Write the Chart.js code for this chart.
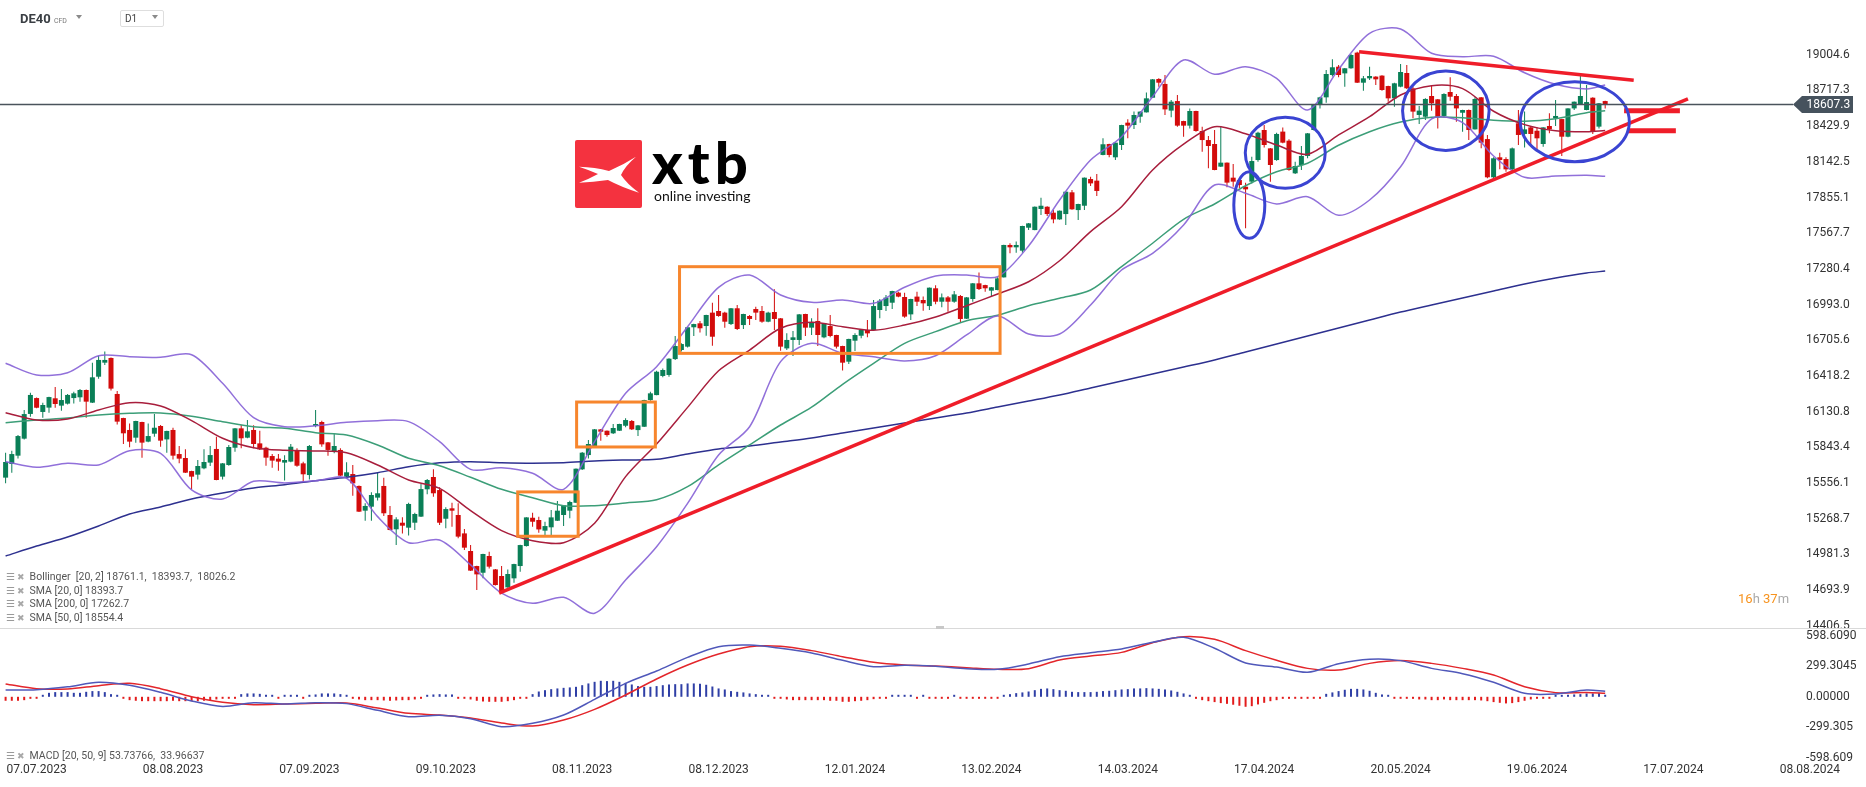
<!DOCTYPE html>
<html>
<head>
<meta charset="utf-8">
<script src="https://cdn.jsdelivr.net/npm/chart.js@4.4.0/dist/chart.umd.min.js"></script>
<style>
body{margin:0;background:#fff;width:1866px;height:787px;overflow:hidden;position:relative;font-family:Roboto,sans-serif}
canvas{position:absolute;left:0}
#main{top:0}
#macd{top:628px}
.t{position:absolute;white-space:nowrap}
.lg{position:absolute;left:6px;font-size:10.5px;line-height:12px;color:#555;white-space:nowrap}
.lg .ic{display:inline-block;width:9px;color:#9a9a9a;font-size:9.5px}
.lg .x{display:inline-block;width:12px;color:#a8a8a8;font-size:8.5px;text-align:center}
.tri{position:absolute;width:0;height:0;border-left:3.5px solid transparent;border-right:3.5px solid transparent;border-top:4px solid #8a8a8a}
#sep{position:absolute;left:0;top:628px;width:1866px;height:1px;background:#d9d9d9}
</style>
</head>
<body>
<canvas id="main" width="1866" height="628"></canvas>
<canvas id="macd" width="1866" height="159"></canvas>
<div id="sep"></div>
<div class="t" style="left:936px;top:626px;width:8px;height:3px;background:#c8c8c8"></div>

<div class="t" style="left:20px;top:11px;font-size:13px;line-height:15px;font-weight:700;color:#3a3f44">DE40 <span style="font-size:7px;font-weight:400;color:#777">CFD</span></div>
<div class="tri" style="left:76px;top:15px"></div>
<div class="t" style="left:120px;top:10px;width:42px;height:15px;border:1px solid #dedede;border-radius:2px"></div>
<div class="t" style="left:125px;top:13px;font-size:10px;line-height:12px;color:#444">D1</div>
<div class="tri" style="left:152px;top:15px"></div>

<div class="t" style="left:575px;top:140px;width:67px;height:68px;background:#f4323f;border-radius:2px">
<svg width="67" height="68" viewBox="0 0 67 68"><path fill="#fff" d="M4,26.7 Q20,27 34,31 Q48,25 61,16.7 Q50,26 46,35 Q52,44 64,52.7 Q46,47 33,40 Q18,42 4,42.7 Q14,39 23,34 Q14,30 4,26.7 Z"/></svg>
</div>
<div class="t" style="left:652px;top:133px;font-family:Lato,sans-serif;font-weight:900;font-size:58px;line-height:58px;letter-spacing:5px;color:#000">xtb</div>
<div class="t" style="left:654px;top:188px;font-family:Lato,sans-serif;font-weight:400;font-size:14px;line-height:15px;color:#111">online investing</div>

<div class="lg" style="top:571px"><span class="ic">&#9776;</span><span class="x">&#10006;</span> Bollinger&nbsp; [20, 2] 18761.1,&nbsp; 18393.7,&nbsp; 18026.2</div>
<div class="lg" style="top:585px"><span class="ic">&#9776;</span><span class="x">&#10006;</span> SMA [20, 0] 18393.7</div>
<div class="lg" style="top:598px"><span class="ic">&#9776;</span><span class="x">&#10006;</span> SMA [200, 0] 17262.7</div>
<div class="lg" style="top:612px"><span class="ic">&#9776;</span><span class="x">&#10006;</span> SMA [50, 0] 18554.4</div>
<div class="lg" style="top:750px"><span class="ic">&#9776;</span><span class="x">&#10006;</span> MACD [20, 50, 9] 53.73766,&nbsp; 33.96637</div>

<div class="t" style="left:1738px;top:591px;font-size:13px;line-height:16px"><span style="color:#f7931e">16</span><span style="color:#aaa">h</span> <span style="color:#f7931e">37</span><span style="color:#aaa">m</span></div>

<script>
// daily candles, bar index 0 = 30.06.2023
const opens = [
15599,15709,15776,15913,16112,16240,16128,16163,16238,16179,
16195,16240,16246,16305,16203,16412,16525,16563,16273,16079,
15983,15921,16047,15889,15953,16015,15907,15983,15789,15757,
15652,15623,15674,15720,15830,15607,15701,15840,15996,15921,
15983,15875,15840,15773,15752,15720,15728,15822,15714,15620,
16015,16047,15883,15811,15822,15607,15628,15532,15333,15365,
15438,15532,15298,15183,15236,15196,15236,15285,15505,15604,
15499,15268,15352,15298,15150,15008,14887,14833,14968,14860,
14807,14715,14788,14887,15048,15276,15258,15172,15199,15252,
15298,15333,15397,15666,15781,15854,15988,15977,15956,15977,
16017,16055,15982,16009,16224,16264,16418,16426,16554,16627,
16654,16810,16842,16820,16928,16941,16928,16836,16963,16828,
16901,16957,16941,16855,16933,16882,16640,16708,16708,16917,
16807,16861,16729,16820,16748,16659,16533,16702,16742,16788,
16788,16949,16981,17008,17089,17054,16914,17057,17030,16981,
17124,17016,17051,17016,17062,16879,17038,17164,17150,17105,
17110,17212,17473,17454,17427,17612,17593,17763,17781,17733,
17679,17722,17897,17754,17789,18004,17991,18198,18286,18179,
18278,18458,18439,18506,18541,18659,18810,18770,18555,18632,
18471,18434,18552,18391,18318,18286,18104,18136,18015,17996,
17942,17983,18157,18399,18251,18157,18386,18313,18050,18117,
18190,18399,18600,18662,18842,18909,18855,18896,19022,18780,
18815,18829,18837,18753,18654,18748,18858,18734,18520,18506,
18673,18646,18512,18705,18673,18538,18560,18404,18662,18326,
18018,18179,18165,18082,18453,18367,18420,18393,18286,18431,
18493,18487,18345,18573,18608,18560,18659,18426,18632];
const highs = [
15800,15816,15942,16144,16283,16245,16203,16250,16329,16313,
16273,16291,16313,16308,16525,16579,16614,16566,16297,16082,
16036,16058,16050,16036,16112,16023,15977,16001,15854,15827,
15655,15741,15827,15854,15929,15716,15862,15998,16023,16063,
16020,15977,15848,15789,15789,15779,15870,15835,15728,15862,
16144,16058,15886,15951,15835,15722,15701,15535,15392,15481,
15639,15599,15371,15279,15279,15397,15317,15548,15588,15666,
15521,15360,15397,15392,15185,15056,14890,14986,15003,14863,
14887,14860,14906,15058,15281,15317,15284,15244,15338,15411,
15378,15413,15673,15805,15902,15990,15990,15979,16031,16033,
16077,16063,16022,16226,16291,16460,16479,16560,16740,16681,
16812,16838,16861,16911,17008,17070,16936,16965,16990,16919,
16909,16976,16981,16936,17116,16885,16761,16780,16917,16919,
16882,16963,16844,16909,16750,16662,16718,16761,16790,16869,
17030,17038,17070,17104,17097,17089,17040,17097,17057,17131,
17148,17083,17062,17102,17070,17053,17166,17252,17152,17134,
17212,17475,17486,17500,17628,17649,17783,17854,17784,17755,
17751,17904,17916,17805,18017,18023,18045,18332,18288,18299,
18441,18485,18547,18549,18700,18809,18815,18842,18641,18681,
18474,18573,18554,18426,18351,18399,18431,18138,18125,17998,
17975,18184,18385,18439,18254,18377,18420,18324,18144,18270,
18374,18602,18667,18882,18968,18923,18898,19011,19030,18834,
18909,18831,18839,18756,18780,18931,18922,18748,18592,18654,
18753,18648,18694,18823,18689,18562,18565,18662,18664,18359,
18179,18216,18179,18259,18560,18547,18431,18420,18422,18533,
18640,18490,18575,18629,18834,18761,18662,18616,18635];
const lows = [
15553,15639,15754,15907,16090,16158,16082,16122,16162,16138,
16189,16197,16211,16082,16200,16396,16506,16300,16028,15870,
15843,15881,15760,15885,15929,15848,15800,15746,15714,15636,
15507,15585,15666,15693,15578,15585,15695,15808,15835,15916,
15835,15822,15695,15679,15655,15575,15722,15687,15559,15585,
16004,15848,15776,15795,15612,15593,15454,15322,15252,15252,
15414,15290,15175,15056,15150,15134,15177,15282,15465,15446,
15218,15191,15204,15110,15016,14847,14694,14788,14868,14731,
14668,14712,14753,14841,15045,15204,15156,15137,15137,15250,
15209,15271,15395,15660,15754,15851,15897,15929,15950,15975,
16004,15982,15934,16007,16219,16262,16407,16412,16546,16614,
16648,16740,16767,16742,16662,16895,16807,16828,16788,16796,
16828,16869,16847,16850,16788,16622,16627,16579,16667,16740,
16748,16659,16721,16729,16640,16461,16514,16619,16721,16729,
16785,16882,16941,16957,17051,16887,16869,16981,16944,16949,
16995,16971,16936,17008,16847,16877,17016,17110,17097,17062,
17108,17210,17406,17411,17411,17593,17591,17714,17706,17647,
17677,17634,17757,17674,17754,17948,17867,18195,18179,18157,
18238,18332,18407,18458,18539,18657,18748,18520,18501,18426,
18345,18412,18385,18224,18090,18074,18100,17937,17942,17929,
17607,17969,18144,18259,17983,18152,18292,18071,18044,18077,
18171,18394,18573,18619,18829,18823,18748,18893,18778,18716,
18802,18761,18716,18627,18587,18743,18729,18493,18447,18479,
18555,18412,18501,18635,18466,18385,18318,18402,18251,18010,
18001,18082,18063,18071,18278,18259,18270,18238,18265,18372,
18431,18189,18340,18560,18606,18558,18367,18412,18573];
const closes = [
15725,15789,15934,16111,16265,16162,16184,16248,16192,16224,
16265,16278,16305,16211,16407,16547,16547,16316,16050,15956,
15889,16055,15881,15934,16001,15897,15975,15776,15752,15639,
15607,15693,15725,15781,15580,15714,15846,15996,15916,15972,
15870,15827,15760,15736,15728,15741,15848,15695,15626,15854,
16031,15867,15822,15854,15615,15642,15553,15325,15371,15459,
15473,15312,15177,15263,15212,15387,15306,15507,15580,15473,
15236,15346,15333,15124,15035,14850,14820,14984,14882,14734,
14672,14823,14903,15056,15279,15244,15182,15209,15279,15333,
15376,15403,15671,15800,15870,15988,15969,15942,15999,16031,
16063,15988,16020,16224,16278,16452,16466,16557,16659,16675,
16810,16836,16802,16909,16734,16901,16855,16963,16796,16917,
16877,16928,16855,16928,16877,16654,16708,16729,16914,16807,
16852,16748,16842,16740,16654,16525,16716,16748,16788,16761,
16981,17024,17049,17102,17057,16896,17038,17016,17003,17129,
17016,17051,17016,17075,16877,17051,17164,17118,17124,17132,
17204,17473,17454,17473,17626,17647,17781,17789,17722,17679,
17749,17902,17760,17803,18015,17969,17908,18284,18198,18297,
18439,18434,18520,18547,18654,18807,18780,18565,18627,18434,
18434,18552,18391,18318,18270,18077,18136,17975,17983,17956,
17921,18149,18377,18278,18117,18367,18297,18077,18109,18190,
18372,18600,18662,18850,18904,18842,18896,19003,18780,18815,
18834,18807,18721,18654,18775,18866,18735,18547,18555,18649,
18614,18501,18689,18667,18573,18560,18399,18649,18297,18018,
18171,18157,18082,18251,18359,18404,18367,18332,18420,18404,
18512,18345,18573,18627,18673,18624,18385,18614,18607.3];

// indicator lines, read at these bar indices
const lineBars = [0,5,10,15,20,25,30,35,40,45,50,55,60,65,70,75,80,85,90,95,100,105,110,115,120,125,
  130,135,140,145,150,155,160,165,170,175,180,185,190,195,200,205,210,215,220,225,230,235,240,245,250,255,258];
const bbUpper = [16520,16426,16444,16581,16573,16568,16589,16359,16082,16009,16017,16045,16058,16050,15889,15666,15679,15634,15505,15889,16278,16493,16815,17132,17231,17070,
  17011,17030,17003,17132,17223,17231,17217,17465,17835,18157,18345,18667,18963,18848,18909,18815,18560,18888,19178,19212,19017,18989,18993,18860,18767,18729,18761];
const bbLower = [15727,15682,15715,15701,15816,15795,15500,15427,15570,15556,15574,15594,15285,15075,15097,14896,14668,14587,14635,14507,14775,15043,15392,15781,16009,16533,
  16681,16600,16573,16539,16581,16748,16901,16756,16756,16990,17271,17406,17634,17956,17889,17803,17862,17712,17835,18103,18488,18458,18190,18018,18029,18034,18026];
const sma20 = [16122,16063,16071,16144,16203,16176,16058,15916,15840,15819,15814,15800,15701,15580,15513,15333,15172,15091,15075,15231,15607,15870,16165,16460,16627,16802,
  16850,16815,16786,16828,16893,16984,17078,17177,17346,17580,17781,18077,18286,18426,18369,18278,18203,18359,18506,18681,18756,18732,18550,18442,18393,18385,18394];
const sma50 = [16042,16063,16079,16104,16117,16120,16093,16050,16009,15997,15961,15942,15862,15755,15695,15602,15505,15437,15373,15373,15395,15421,15526,15701,15862,16023,
  16166,16351,16520,16681,16775,16863,16907,16984,17044,17110,17298,17487,17680,17803,17950,18063,18131,18276,18385,18463,18501,18498,18477,18469,18490,18538,18554];
const sma200 = [14968,15048,15121,15210,15306,15363,15427,15475,15516,15542,15574,15602,15639,15687,15719,15728,15719,15715,15719,15733,15741,15747,15790,15830,15854,15886,
  15918,15959,15999,16039,16079,16120,16168,16216,16265,16321,16377,16434,16490,16547,16611,16675,16740,16804,16869,16933,16990,17046,17102,17159,17207,17247,17263];

const macdLine = [67,70,98,142,113,44,-41,-94,-58,-71,-58,-67,-133,-195,-182,-215,-293,-260,-179,-25,132,253,387,492,508,476,
  430,358,296,309,299,276,270,322,394,433,469,535,584,476,332,292,240,325,368,355,279,227,142,34,28,67,54];
const signalLine = [126,80,77,109,132,80,1,-54,-77,-71,-64,-61,-110,-162,-179,-208,-257,-287,-228,-123,18,175,312,420,492,495,
  453,394,338,312,302,286,270,276,361,400,436,531,590,564,453,358,279,263,328,355,328,279,214,99,41,41,34];
const histogram = [
-39,-39,-39,-33,-20,-3,2,39,46,46,
46,39,39,49,56,56,46,26,6,-16,
-33,-39,-43,-43,-43,-43,-43,-39,-43,-43,
-43,-43,-39,-33,-26,-16,-10,-3,26,33,
33,29,20,2,-3,6,2,6,-3,3,
23,33,33,33,26,3,-3,-26,-33,-33,
-33,-36,-39,-36,-33,-33,-26,-10,2,23,
26,23,23,-3,-16,-26,-39,-46,-49,-49,
-49,-43,-33,-16,-3,26,52,65,75,82,
88,92,98,114,131,147,157,154,157,147,
137,121,105,98,98,105,114,121,124,124,
131,131,128,118,101,82,72,56,49,43,
33,26,16,2,-3,-16,-26,-33,-33,-33,
-33,-33,-33,-39,-39,-49,-49,-43,-39,-33,
-23,-10,-3,3,13,2,2,-3,2,-5,
-5,-3,-3,2,-7,-7,-5,-3,-3,-3,
-2,2,26,36,43,52,65,78,82,75,
65,59,49,46,46,46,49,56,59,65,
72,75,82,82,85,82,78,72,62,49,
33,2,-20,-33,-43,-52,-62,-69,-78,-88,
-98,-92,-75,-59,-43,-33,-20,-20,-16,-20,
-16,-13,-2,29,43,56,69,78,78,72,
59,39,23,2,-2,-3,-10,-20,-26,-26,
-33,-33,-26,-33,-33,-33,-33,-33,-36,-43,
-52,-59,-65,-62,-52,-39,-26,-16,-10,-3,
10,16,20,23,26,33,33,36,20];

// axes
const priceTicks = [19004.6,18717.3,18429.9,18142.5,17855.1,17567.7,17280.4,16993.0,16705.6,16418.2,16130.8,15843.4,15556.1,15268.7,14981.3,14693.9,14406.5];
const macdTicks = [598.609,299.3045,0,-299.305,-598.609];
const macdTickLabels = ['598.6090','299.3045','0.00000','-299.305','-598.609'];
const dateBars = [5,27,49,71,93,115,137,159,181,203,225,247,269,291];
const dateLabels = ['07.07.2023','08.08.2023','07.09.2023','09.10.2023','08.11.2023','08.12.2023','12.01.2024',
  '13.02.2024','14.03.2024','17.04.2024','20.05.2024','19.06.2024','17.07.2024','08.08.2024'];

// drawings: [bar from, bar to, price top, price bottom]
const boxes = [[82.6,92.35,15484,15127],[92.1,104.8,16208,15846],[108.7,160.4,17298,16600]];
// [bar, price, bar, price]
const trendLines = [[79.6,14668,271.35,18650],[218.3,19030,262.6,18800]];
const levelMarks = [[261.05,270.05,18554],[261.5,269.4,18393]];
// [bar centre, price centre, half width in bars, half height in price]
const ellipses = [[200.6,17795,2.5,268],[206.4,18215,6.45,286],[232.3,18554,6.98,320],[253.1,18466,8.79,322]];

const GREEN = '#0a7f57', RED = '#d30b0b';
Chart.defaults.font.family = 'Roboto, sans-serif';

const barIdx = opens.map((o, i) => i);
const candleColors = barIdx.map(i => closes[i] >= opens[i] ? GREEN : RED);
const pts = vals => lineBars.map((b, k) => ({x: b, y: vals[k]}));
const xMin = -0.903, xMax = 290.39;

const lineDs = (vals, color, order) => ({
  type: 'line', data: pts(vals), borderColor: color, borderWidth: 1.5,
  pointRadius: 0, tension: 0.3, order: order
});

const annotations = {
  id: 'annotations',
  afterDatasetsDraw(chart) {
    const {ctx, scales: {x, y}} = chart;
    ctx.save();
    ctx.strokeStyle = '#f7862d';
    ctx.lineWidth = 3;
    boxes.forEach(([b0, b1, pTop, pBot]) => {
      const x0 = x.getPixelForValue(b0), x1 = x.getPixelForValue(b1);
      const y0 = y.getPixelForValue(pTop), y1 = y.getPixelForValue(pBot);
      ctx.strokeRect(x0, y0, x1 - x0, y1 - y0);
    });
    ctx.strokeStyle = '#ef1d29';
    ctx.lineWidth = 3.5;
    trendLines.forEach(([b0, p0, b1, p1]) => {
      ctx.beginPath();
      ctx.moveTo(x.getPixelForValue(b0), y.getPixelForValue(p0));
      ctx.lineTo(x.getPixelForValue(b1), y.getPixelForValue(p1));
      ctx.stroke();
    });
    ctx.lineWidth = 5;
    levelMarks.forEach(([b0, b1, p]) => {
      ctx.beginPath();
      ctx.moveTo(x.getPixelForValue(b0), y.getPixelForValue(p));
      ctx.lineTo(x.getPixelForValue(b1), y.getPixelForValue(p));
      ctx.stroke();
    });
    ctx.strokeStyle = '#3a44d2';
    ctx.lineWidth = 3;
    ellipses.forEach(([b, p, rb, rp]) => {
      const cx = x.getPixelForValue(b), cy = y.getPixelForValue(p);
      const rx = Math.abs(x.getPixelForValue(b + rb) - cx);
      const ry = Math.abs(y.getPixelForValue(p + rp) - cy);
      ctx.beginPath();
      ctx.ellipse(cx, cy, rx, ry, 0, 0, Math.PI * 2);
      ctx.stroke();
    });
    ctx.restore();
  }
};

const priceMarker = {
  id: 'priceMarker',
  afterDraw(chart) {
    const {ctx, chartArea, scales: {y}} = chart;
    const last = closes[closes.length - 1];
    const py = Math.round(y.getPixelForValue(last)) + 0.5;
    const r = chartArea.right;
    ctx.save();
    ctx.strokeStyle = '#4a535c';
    ctx.lineWidth = 1.5;
    ctx.beginPath();
    ctx.moveTo(0, py);
    ctx.lineTo(r - 13, py);
    ctx.stroke();
    ctx.fillStyle = '#46525d';
    ctx.beginPath();
    ctx.moveTo(r - 13, py);
    ctx.lineTo(r - 4, py - 8.5);
    ctx.lineTo(r + 47, py - 8.5);
    ctx.lineTo(r + 47, py + 8.5);
    ctx.lineTo(r - 4, py + 8.5);
    ctx.closePath();
    ctx.fill();
    ctx.fillStyle = '#fff';
    ctx.font = '12px Roboto';
    ctx.textBaseline = 'middle';
    ctx.fillText(last.toFixed(1), r + 0.5, py);
    ctx.restore();
  }
};

new Chart(document.getElementById('main'), {
  type: 'bar',
  data: {
    datasets: [
      lineDs(bbUpper, 'rgba(133,96,214,0.9)', 1),
      lineDs(bbLower, 'rgba(133,96,214,0.9)', 1),
      lineDs(sma20, '#a81e3c', 2),
      lineDs(sma50, '#3c9e78', 3),
      lineDs(sma200, '#2d308f', 4),
      {label: 'wick', data: barIdx.map(i => ({x: i, y: [lows[i], highs[i]]})), backgroundColor: candleColors,
        barThickness: 1, grouped: false, inflateAmount: 0, order: 10},
      {label: 'body', data: barIdx.map(i => ({x: i, y: [opens[i], closes[i]]})), backgroundColor: candleColors,
        barThickness: 5, grouped: false, inflateAmount: 0, minBarLength: 1, order: 9}
    ]
  },
  options: {
    responsive: false,
    animation: false,
    layout: {padding: 0},
    plugins: {legend: {display: false}, tooltip: {enabled: false}},
    scales: {
      x: {type: 'linear', min: xMin, max: xMax, display: false, offset: false},
      y: {
        position: 'right', min: 14388, max: 19446,
        grid: {display: false, drawTicks: false}, border: {display: false},
        ticks: {padding: 0, autoSkip: false, color: '#333', font: {size: 12}, callback: v => v.toFixed(1)},
        afterBuildTicks: s => { s.ticks = priceTicks.map(v => ({value: v})); },
        afterFit: s => { s.width = 60; s.paddingTop = 0; s.paddingBottom = 0; }
      }
    }
  },
  plugins: [annotations, priceMarker]
});

new Chart(document.getElementById('macd'), {
  type: 'bar',
  data: {
    datasets: [
      {type: 'line', data: pts(macdLine), borderColor: '#5058ba', borderWidth: 1.5, pointRadius: 0, tension: 0.3, order: 1},
      {type: 'line', data: pts(signalLine), borderColor: '#e3262b', borderWidth: 1.5, pointRadius: 0, tension: 0.3, order: 2},
      {data: barIdx.map(i => ({x: i, y: histogram[i]})),
        backgroundColor: histogram.map(v => v >= 0 ? '#2f3fa6' : '#e31c1c'),
        barThickness: 2, grouped: false, inflateAmount: 0, minBarLength: 2, order: 5}
    ]
  },
  options: {
    responsive: false,
    animation: false,
    layout: {padding: 0},
    plugins: {legend: {display: false}, tooltip: {enabled: false}},
    scales: {
      x: {
        type: 'linear', min: xMin, max: xMax, offset: false,
        grid: {display: false, drawTicks: false}, border: {display: false},
        ticks: {padding: -1, autoSkip: false, maxRotation: 0, color: '#333', font: {size: 12},
          callback: (v, i) => dateLabels[i]},
        afterBuildTicks: s => { s.ticks = dateBars.map(v => ({value: v})); },
        afterFit: s => { s.height = 23; s.paddingLeft = 0; s.paddingRight = 0; }
      },
      y: {
        position: 'right', min: -659.4, max: 675.1,
        grid: {display: false, drawTicks: false}, border: {display: false},
        ticks: {padding: 0, autoSkip: false, color: '#333', font: {size: 12}, callback: (v, i) => macdTickLabels[i]},
        afterBuildTicks: s => { s.ticks = macdTicks.map(v => ({value: v})); },
        afterFit: s => { s.width = 60; s.paddingTop = 0; s.paddingBottom = 0; }
      }
    }
  }
});
</script>
</body>
</html>
